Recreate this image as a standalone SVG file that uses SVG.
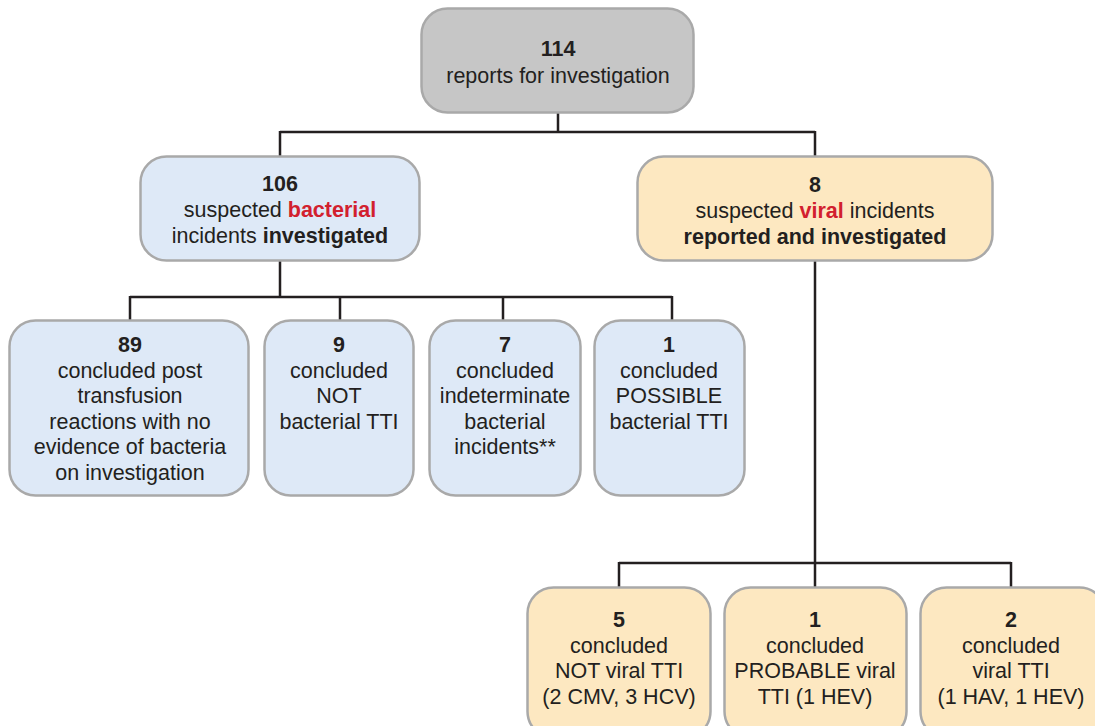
<svg xmlns="http://www.w3.org/2000/svg" width="1095" height="726" viewBox="0 0 1095 726">
<style>
.box{stroke:#a9a9a9;stroke-width:2.5}
.grey{fill:#c6c6c6}
.blue{fill:#dee9f7}
.peach{fill:#fde8c1}
text{font-family:"Liberation Sans",Arial,sans-serif;font-size:21.5px;fill:#231f20;text-anchor:middle}
.b{font-weight:bold}
.red{fill:#d2202e;font-weight:bold}
.conn{fill:none;stroke:#231f20;stroke-width:2.5}
</style>
<rect width="1095" height="726" fill="#ffffff"/>
<g id="connectors">
<path class="conn" d="M558 112V132M280 132H815M280 131V157M815 131V157"/>
<path class="conn" d="M280 261V297M130 297H672M130 296V320M340 296V320M503 296V320M672 296V320"/>
<path class="conn" d="M815 261V563M619 563H1011M619 562V587M815 562V587M1011 562V587"/>
</g>
<g id="n114">
<rect class="box grey" x="421.5" y="8.5" width="272" height="104" rx="26"/>
<text x="558" y="56" class="b">114</text>
<text x="558" y="83">reports for investigation</text>
</g>
<g id="n106">
<rect class="box blue" x="140.5" y="156.5" width="279" height="104" rx="26"/>
<text x="280" y="191" class="b">106</text>
<text x="280" y="217">suspected <tspan class="red">bacterial</tspan></text>
<text x="280" y="243">incidents <tspan class="b">investigated</tspan></text>
</g>
<g id="n8">
<rect class="box peach" x="637.5" y="156.5" width="355" height="104" rx="26"/>
<text x="815" y="192" class="b">8</text>
<text x="815" y="218">suspected <tspan class="red">viral</tspan> incidents</text>
<text x="815" y="244" class="b">reported and investigated</text>
</g>
<g id="n89">
<rect class="box blue" x="9.5" y="320.5" width="239" height="175" rx="26"/>
<text x="130" y="352" class="b">89</text>
<text x="130" y="378">concluded post</text>
<text x="130" y="403">transfusion</text>
<text x="130" y="429">reactions with no</text>
<text x="130" y="454">evidence of bacteria</text>
<text x="130" y="480">on investigation</text>
</g>
<g id="n9">
<rect class="box blue" x="264.5" y="320.5" width="149" height="175" rx="26"/>
<text x="339" y="352" class="b">9</text>
<text x="339" y="378">concluded</text>
<text x="339" y="403">NOT</text>
<text x="339" y="429">bacterial TTI</text>
</g>
<g id="n7">
<rect class="box blue" x="429.5" y="320.5" width="151" height="175" rx="26"/>
<text x="505" y="352" class="b">7</text>
<text x="505" y="378">concluded</text>
<text x="505" y="403">indeterminate</text>
<text x="505" y="429">bacterial</text>
<text x="505" y="454">incidents**</text>
</g>
<g id="n1b">
<rect class="box blue" x="594.5" y="320.5" width="150" height="175" rx="26"/>
<text x="669" y="352" class="b">1</text>
<text x="669" y="378">concluded</text>
<text x="669" y="403">POSSIBLE</text>
<text x="669" y="429">bacterial TTI</text>
</g>
<g id="n5">
<rect class="box peach" x="527.5" y="587.5" width="183" height="150" rx="26"/>
<text x="619" y="627" class="b">5</text>
<text x="619" y="653">concluded</text>
<text x="619" y="678">NOT viral TTI</text>
<text x="619" y="704">(2 CMV, 3 HCV)</text>
</g>
<g id="n1v">
<rect class="box peach" x="724.5" y="587.5" width="182" height="150" rx="26"/>
<text x="815" y="627" class="b">1</text>
<text x="815" y="653">concluded</text>
<text x="815" y="678">PROBABLE viral</text>
<text x="815" y="704">TTI (1 HEV)</text>
</g>
<g id="n2">
<rect class="box peach" x="920.5" y="587.5" width="185" height="150" rx="26"/>
<text x="1011" y="627" class="b">2</text>
<text x="1011" y="653">concluded</text>
<text x="1011" y="678">viral TTI</text>
<text x="1011" y="704">(1 HAV, 1 HEV)</text>
</g>
</svg>
